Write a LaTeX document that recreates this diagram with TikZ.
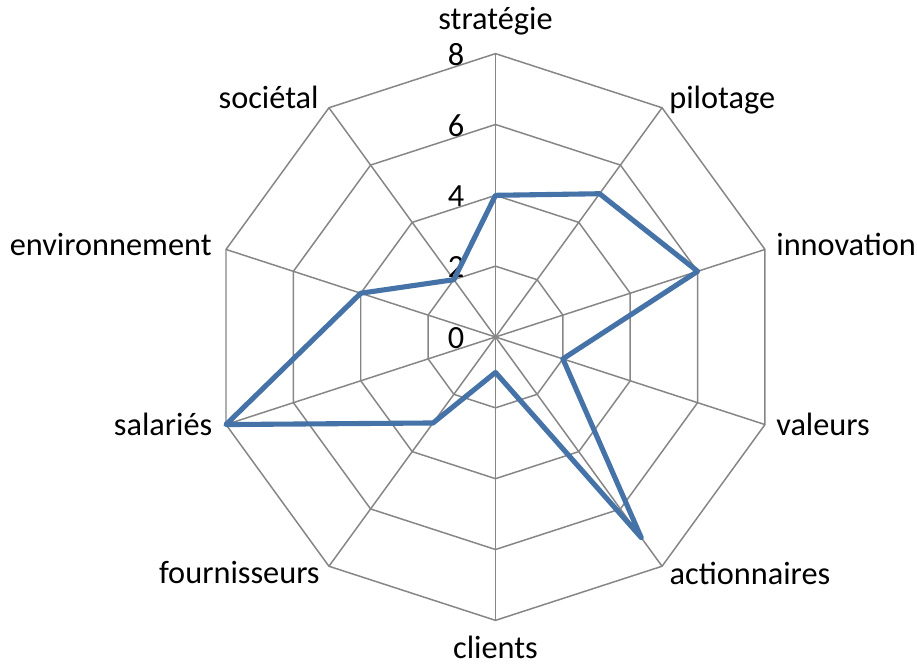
\documentclass[tikz,border=0pt]{standalone}
\usepackage{fontspec}
\setmainfont{Carlito}
\definecolor{gridgray}{RGB}{134,134,134}
\definecolor{serieblue}{RGB}{69,114,167}
\begin{document}
\begin{tikzpicture}[x=0.02cm, y=0.02cm,
                    font=\fontsize{18.4}{22}\selectfont,
                    line join=round,
                    ]
    \tikzstyle{grid}=[draw=gridgray, line width=0.85pt]
    \tikzstyle{serie}=[draw=serieblue, line width=2.9pt]
    \tikzstyle{axislabel}=[inner sep=0pt]
    \tikzstyle{ticklabel}=[axislabel, anchor=east]

    \useasboundingbox (-495.5,-330) rectangle (421.5,337);
    \coordinate (center) at (0,0);

    % rings
    \foreach \r in {2,4,6,8}
        \draw[grid] (90:\r*35.42) \foreach \a in {54,18,-18,-54,-90,-126,-162,162,126} { -- (\a:\r*35.42) } -- cycle;

    % spokes
    \foreach \a/\n in {90/strat, 54/pilot, 18/innov, -18/val, -54/action,
                       -90/client, -126/fourn, -162/sal, 162/env, 126/soc} {
        \coordinate (\n) at (\a:283.4);
        \draw[grid] (center) -- (\n);
    }

    % ticks
    \foreach \v in {0,2,4,6,8}
        \node[ticklabel] (tick\v) at (-31,\v*35.42-1) {\v};

    % labels
    \node[axislabel, anchor=base] (lstrat) at (0,308) {stratégie};
    \node[axislabel, anchor=base west] (lpilot) at (173.5,228.7) {pilotage};
    \node[axislabel, anchor=base west] (linnov) at (280.5,82) {innovation};
    \node[axislabel, anchor=base west] (lval) at (280.5,-98.7) {valeurs};
    \node[axislabel, anchor=base west] (laction) at (173.8,-247) {actionnaires};
    \node[axislabel, anchor=base] (lclient) at (0,-321) {clients};
    \node[axislabel, anchor=base east] (lfourn) at (-175.5,-246) {fournisseurs};
    \node[axislabel, anchor=base east] (lsal) at (-282.8,-98.7) {salariés};
    \node[axislabel, anchor=base east] (lenv) at (-283.5,82) {environnement};
    \node[axislabel, anchor=base east] (lsoc) at (-176.5,228.7) {sociétal};

    % data
    \foreach \a/\v/\n in {90/4/strat, 54/5/pilot, 18/6/innov, -18/2/val, -54/7/action,
                          -90/1/client, -126/3/fourn, -162/8/sal, 162/4/env, 126/2/soc}
        \coordinate (v\n) at (\a:\v*35.42);
    \draw[serie] (vstrat) -- (vpilot) -- (vinnov) -- (vval) -- (vaction) -- (vclient)
        -- (vfourn) -- (vsal) -- (venv) -- (vsoc) -- cycle;
\end{tikzpicture}
\end{document}
